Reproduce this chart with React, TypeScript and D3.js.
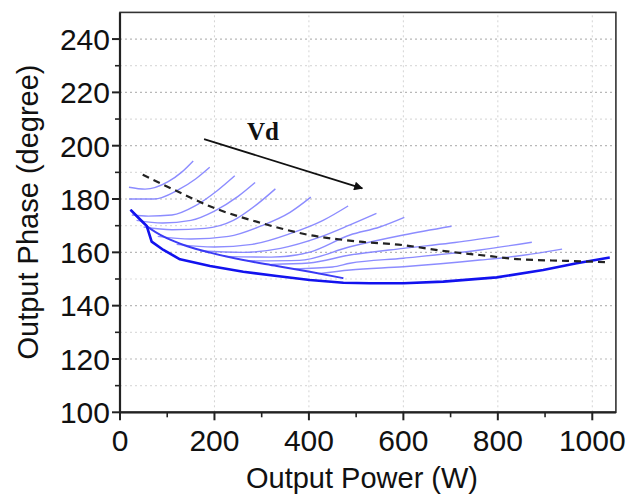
import React from "react";
import * as d3 from "d3";

const xTicks = [0, 200, 400, 600, 800, 1000];
const yTicks = [100, 120, 140, 160, 180, 200, 220, 240];

// thin family of curves (W, degree)
const thinCurves: [number, number][][] = [
  [[19, 184.4], [53, 183.7], [102, 186.5], [130, 190], [155, 194.3]],
  [[19, 180], [72, 180], [123, 183.4], [160, 187.5], [190, 191.9]],
  [[25, 174], [60, 173.6], [110, 174], [160, 177.5], [205, 183], [243, 188.7]],
  [[35, 172], [90, 171], [150, 172], [200, 175.5], [250, 181], [286, 186.2]],
  [[50, 169.5], [110, 168.5], [180, 169], [240, 172], [290, 178], [329, 183.8]],
  [[80, 166], [150, 165], [230, 166], [300, 170], [360, 175], [404, 180.7]],
  [[120, 163], [200, 162], [280, 163], [360, 167], [430, 172], [483, 177.4]],
  [[170, 160.5], [260, 160], [340, 161.5], [420, 165.5], [487, 170.3], [543, 174.6]],
  [[220, 158.5], [320, 158.2], [400, 160], [487, 166.5], [550, 169.5], [602, 173.1]],
  [[270, 156.8], [380, 157], [487, 162.1], [600, 166.5], [702, 169.8]],
  [[320, 155.5], [400, 156], [487, 159], [600, 161.5], [700, 163.5], [803, 166.1]],
  [[370, 153.8], [450, 154.5], [487, 155.9], [600, 157.8], [762, 160.9], [872, 163.8]],
  [[420, 152], [487, 153.4], [600, 154.6], [762, 157.1], [850, 158.8], [936, 161.2]],
];

const mediumLine: [number, number][] = [
  [22, 176], [56, 170], [99, 165.3], [141, 162.4], [191, 159.9], [261, 157.1],
  [332, 154.9], [402, 152.7], [473, 150.3],
];

const boldLine: [number, number][] = [
  [22.6, 175.9], [56.5, 169.9], [67, 164], [92, 160.9], [127, 157.4], [190.6, 154.9],
  [261, 152.7], [332, 151.1], [402, 149.6], [473, 148.6], [529, 148.4], [600, 148.4],
  [684.5, 149], [797.6, 150.6], [896, 153.4], [967, 155.9], [1037, 158.1],
];

const dashedLine: [number, number][] = [
  [48, 189.1], [115, 183.4], [200, 176.6], [295, 171.2], [398, 166.6], [508, 164],
  [600, 162.7], [681, 160.6], [762, 159], [847, 157.4], [946, 156.8], [1036, 156.3],
];

const arrowFrom: [number, number] = [178, 202.5];
const arrowTo: [number, number] = [513, 184];
const labelVd = { text: "Vd", at: [269, 202.1] as [number, number] };

export default function App() {
  const W = 635, H = 497;
  const x = d3.scaleLinear().domain([0, 1050]).range([120, 615.9]);
  const y = d3.scaleLinear().domain([100, 250]).range([412.3, 12.4]);
  const line = d3.line<[number, number]>().x((d) => x(d[0])).y((d) => y(d[1]));
  const curve = d3.line<[number, number]>().x((d) => x(d[0])).y((d) => y(d[1])).curve(d3.curveMonotoneX);

  const yGrid = d3.range(110, 250, 10);
  const yMinor = d3.range(110, 250, 20);
  const xMinor = d3.range(100, 1050, 200);
  const font = "'Liberation Sans', Arial, sans-serif";

  return (
    <svg width={W} height={H} style={{ position: "absolute", left: 0, top: 0, background: "#fff" }}>
      <defs>
        <marker id="ah" viewBox="0 0 10 10" refX="9" refY="5" markerWidth="15" markerHeight="9" markerUnits="userSpaceOnUse" orient="auto">
          <path d="M0,0 L10,5 L0,10 Z" fill="#111" />
        </marker>
      </defs>
      {/* grid */}
      {yGrid.map((v) => (
        <line key={"gy" + v} x1={x(0)} x2={x(1050)} y1={y(v)} y2={y(v)}
          stroke={v % 20 === 0 ? "#b8b8b8" : "#dcdcdc"} strokeWidth={1.2} strokeDasharray="2,3" />
      ))}
      {xTicks.filter((v) => v > 0).map((v) => (
        <line key={"gx" + v} x1={x(v)} x2={x(v)} y1={y(100)} y2={y(250)}
          stroke="#d4d4d4" strokeWidth={1} strokeDasharray="2,3" />
      ))}
      {/* curves */}
      {thinCurves.map((c, i) => (
        <path key={"t" + i} d={curve(c) || ""} fill="none" stroke="#7f7fff" strokeWidth={1.4} strokeOpacity={0.9} />
      ))}
      <path d={curve(mediumLine) || ""} fill="none" stroke="#3a3af5" strokeWidth={2} />
      <path d={line(boldLine) || ""} fill="none" stroke="#1212ee" strokeWidth={2.6} strokeLinejoin="round" />
      <path d={curve(dashedLine) || ""} fill="none" stroke="#222" strokeWidth={2.2} strokeDasharray="7,5" />
      {/* arrow */}
      <line x1={x(arrowFrom[0])} y1={y(arrowFrom[1])} x2={x(arrowTo[0])} y2={y(arrowTo[1])}
        stroke="#111" strokeWidth={1.8} markerEnd="url(#ah)" />
      <text x={x(labelVd.at[0])} y={y(labelVd.at[1])} fontFamily="'Liberation Serif', 'Times New Roman', serif"
        fontWeight="bold" fontSize={25} fill="#111">{labelVd.text}</text>
      {/* frame */}
      <rect x={x(0)} y={y(250)} width={x(1050) - x(0)} height={y(100) - y(250)} fill="none" stroke="#333" strokeWidth={1.6} />
      <line x1={x(0)} x2={x(0)} y1={y(100) + 1} y2={y(250)} stroke="#222" strokeWidth={2.2} />
      <line x1={x(0) - 1} x2={x(1050)} y1={y(100)} y2={y(100)} stroke="#222" strokeWidth={2.2} />
      {/* y ticks */}
      {yTicks.map((v) => (
        <g key={"yt" + v}>
          <line x1={x(0) - 8} x2={x(0)} y1={y(v)} y2={y(v)} stroke="#222" strokeWidth={2} />
          <text x={x(0) - 10} y={y(v)} dy="0.36em" textAnchor="end" fontFamily={font} fontSize={30} fill="#111">{v}</text>
        </g>
      ))}
      {yMinor.map((v) => (
        <line key={"ym" + v} x1={x(0) - 5} x2={x(0)} y1={y(v)} y2={y(v)} stroke="#222" strokeWidth={1.6} />
      ))}
      {/* x ticks */}
      {xTicks.map((v) => (
        <g key={"xt" + v}>
          <line x1={x(v)} x2={x(v)} y1={y(100)} y2={y(100) + 8} stroke="#222" strokeWidth={2} />
          <text x={x(v)} y={y(100) + 39} textAnchor="middle" fontFamily={font} fontSize={30} fill="#111">{v}</text>
        </g>
      ))}
      {xMinor.map((v) => (
        <line key={"xm" + v} x1={x(v)} x2={x(v)} y1={y(100)} y2={y(100) + 5} stroke="#222" strokeWidth={1.6} />
      ))}
      {/* titles */}
      <text x={362} y={488} textAnchor="middle" fontFamily={font} fontSize={29} fill="#111">Output Power (W)</text>
      <text transform="translate(38,212) rotate(-90)" textAnchor="middle" fontFamily={font} fontSize={29} fill="#111">Output Phase (degree)</text>
    </svg>
  );
}
